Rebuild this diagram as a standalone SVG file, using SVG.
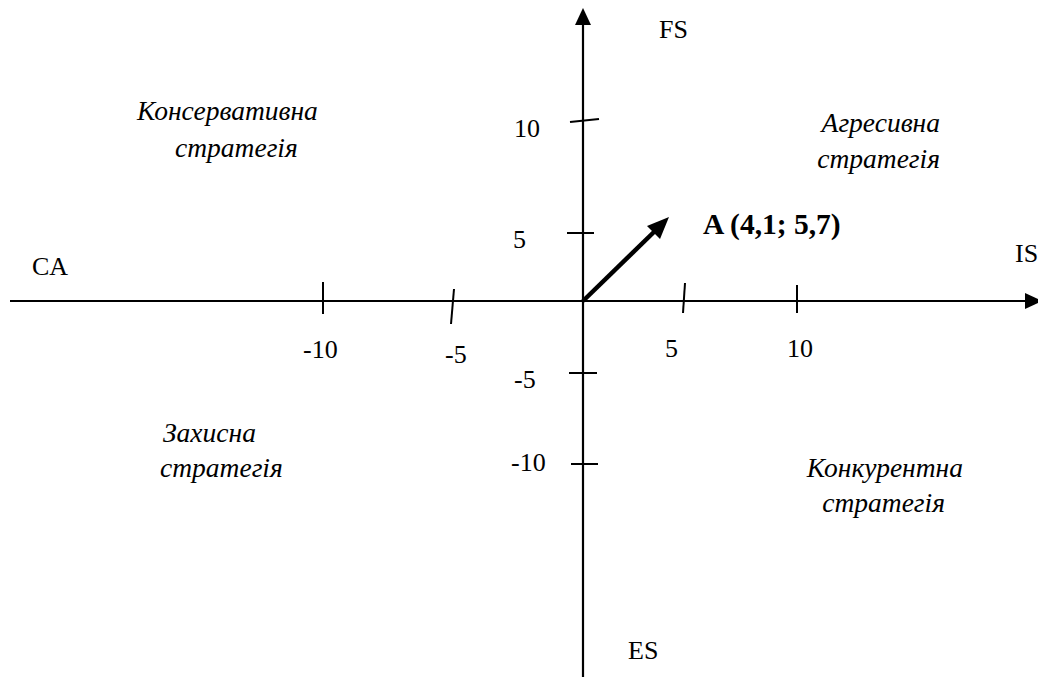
<svg xmlns="http://www.w3.org/2000/svg" width="1038" height="677" viewBox="0 0 1038 677">
<style>
.t{font-family:"Liberation Serif","Times New Roman",serif;font-size:26px;fill:#000}
.b{font-weight:bold;font-size:29.5px}
.i{font-style:italic;font-size:27.5px}
.ax{stroke:#000;stroke-width:2.2;fill:none}
.tk{stroke:#000;stroke-width:2;fill:none}
</style>
<rect width="1038" height="677" fill="#fff"/>
<g id="connectors">
<line class="ax" x1="583" y1="677" x2="583" y2="24"/>
<path d="M583,8 L575,25 L591,25 Z" fill="#000"/>
<line class="ax" x1="10" y1="301" x2="1026" y2="301"/>
<path d="M1042,301 L1025,293 L1025,309 Z" fill="#000"/>
<line class="tk" x1="323" y1="282" x2="323" y2="314"/>
<line class="tk" x1="454" y1="289" x2="451" y2="324"/>
<line class="tk" x1="685" y1="283" x2="683" y2="313"/>
<line class="tk" x1="797" y1="285" x2="797" y2="313"/>
<line class="tk" x1="570" y1="122" x2="599" y2="119"/>
<line class="tk" x1="567" y1="233" x2="594" y2="233"/>
<line class="tk" x1="569" y1="373" x2="597" y2="373"/>
<line class="tk" x1="571" y1="464" x2="598" y2="464"/>
<line x1="583" y1="301" x2="656" y2="230" stroke="#000" stroke-width="4.5"/>
<path d="M669,217 L647,226 L660,239 Z" fill="#000"/>
</g>
<g id="axis-labels">
<text class="t" x="659" y="38">FS</text>
<text class="t" x="1015" y="262">IS</text>
<text class="t" x="32" y="275">CA</text>
<text class="t" x="628" y="659">ES</text>
</g>
<g id="point-A">
<text class="t b" x="703" y="234">A (4,1; 5,7)</text>
</g>
<g id="scale-labels">
<text class="t" x="303" y="358">-10</text>
<text class="t" x="445" y="363">-5</text>
<text class="t" x="665" y="357">5</text>
<text class="t" x="787" y="357">10</text>
<text class="t" x="514" y="137">10</text>
<text class="t" x="513" y="248">5</text>
<text class="t" x="514" y="388">-5</text>
<text class="t" x="511" y="471">-10</text>
</g>
<g id="conservative">
<text class="t i" x="137" y="120">Консервативна</text>
<text class="t i" x="175" y="157">стратегія</text>
</g>
<g id="aggressive">
<text class="t i" x="940" y="132" text-anchor="end">Агресивна</text>
<text class="t i" x="940" y="168" text-anchor="end">стратегія</text>
</g>
<g id="defensive">
<text class="t i" x="163" y="442">Захисна</text>
<text class="t i" x="160" y="477">стратегія</text>
</g>
<g id="competitive">
<text class="t i" x="963" y="477" text-anchor="end">Конкурентна</text>
<text class="t i" x="945" y="512" text-anchor="end">стратегія</text>
</g>
</svg>
